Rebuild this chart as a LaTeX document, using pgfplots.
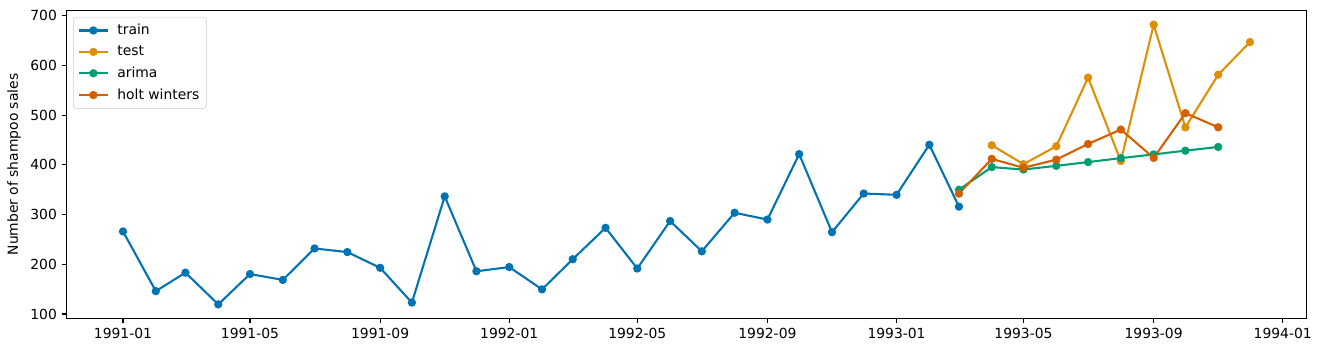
\documentclass[border=0pt]{standalone}
\usepackage{pgfplots}
\pgfplotsset{compat=1.18}
\usepackage{pgfplotstable}
\usepackage{fontspec}
\setmainfont{DejaVu Sans}
\definecolor{cbBlue}{HTML}{0173B2}
\definecolor{cbOrange}{HTML}{DE8F05}
\definecolor{cbGreen}{HTML}{029E73}
\definecolor{cbRed}{HTML}{D55E00}
\pgfplotstableread{
x y
0 266.0
31 145.9
59 183.1
90 119.3
120 180.3
151 168.5
181 231.8
212 224.5
243 192.8
273 122.9
304 336.5
334 185.9
365 194.3
396 149.5
425 210.1
456 273.3
486 191.4
517 287.0
547 226.0
578 303.6
609 289.9
639 421.6
670 264.5
700 342.3
731 339.7
762 440.4
790 315.9
}\train
\pgfplotstableread{
x y
821 439.3
851 401.3
882 437.4
912 575.5
943 407.6
974 682.0
1004 475.3
1035 581.3
1065 646.9
}\test
\pgfplotstableread{
x y
790 350.0
821 395.5
851 390.5
882 398.0
912 405.5
943 413.5
974 421.0
1004 428.5
1035 436.0
}\arima
\pgfplotstableread{
x y
790 342.0
821 412.0
851 394.0
882 410.5
912 442.0
943 471.0
974 414.0
1004 504.0
1035 475.5
}\holt
\begin{document}
\begin{tikzpicture}
\begin{axis}[
  name=ax,
  scale only axis,
  width=892.5pt, height=221.5pt,
  xmin=-53.25, xmax=1118.25,
  ymin=91.2, ymax=710.1,
  xtick={0,120,243,365,486,609,731,851,974,1096},
  xticklabels={1991-01,1991-05,1991-09,1992-01,1992-05,1992-09,1993-01,1993-05,1993-09,1994-01},
  ytick={100,200,300,400,500,600,700},
  /pgf/number format/assume math mode=true,
  tick align=outside,
  xtick pos=bottom, ytick pos=left,
  major tick length=3.5pt,
  tick style={black, line width=0.8pt},
  axis line style={line width=0.8pt},
  tick label style={font=\fontsize{10}{12}\selectfont},
  ylabel={Number of shampoo sales},
  ylabel style={font=\fontsize{10}{12}\selectfont},
  legend cell align=left,
  legend image code/.code={\draw[mark repeat=2,mark phase=2,#1] plot coordinates {(0pt,0pt) (10.5pt,0pt) (21pt,0pt)};},
  legend style={font=\fontsize{10}{12}\selectfont, draw=black!20, rounded corners=2pt,
    at={(rel axis cs:0,1)}, xshift=4.8pt, yshift=-4.5pt, anchor=north west,
    inner xsep=3pt, inner ysep=3pt, row sep=2.6pt,
    /tikz/every odd column/.append style={column sep=4pt}},
  every axis plot/.append style={line width=1.5pt, mark=*, mark size=2.2pt},
]
\addplot[cbBlue, mark options={fill=cbBlue}] table {\train};
\addlegendentry{train}
\addplot[cbOrange, mark options={fill=cbOrange}] table {\test};
\addlegendentry{test}
\addplot[cbGreen, mark options={fill=cbGreen}] table {\arima};
\addlegendentry{arima}
\addplot[cbRed, mark options={fill=cbRed}] table {\holt};
\addlegendentry{holt winters}
\end{axis}
\pgfresetboundingbox
\path[use as bounding box] ([xshift=-48pt,yshift=-24.3pt]ax.south west) rectangle ([xshift=10.6pt,yshift=7.7pt]ax.north east);
\end{tikzpicture}
\end{document}
